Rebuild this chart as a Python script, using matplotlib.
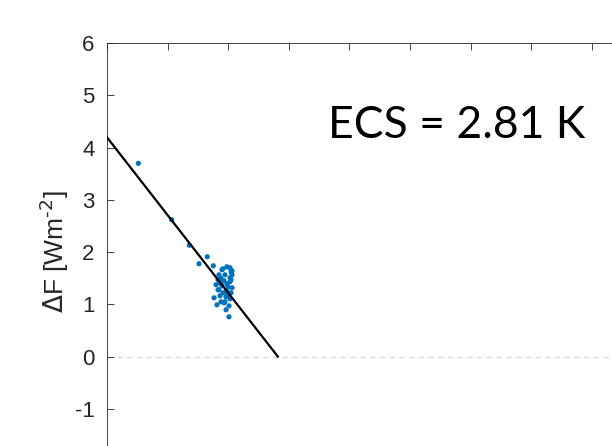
import numpy as np
import matplotlib
matplotlib.use("Agg")
import matplotlib.pyplot as plt

plt.rcParams["axes.unicode_minus"] = False

# surface temperature change vs. TOA imbalance
dT = [0.517, 1.068, 1.358, 1.655, 1.518, 1.754,
      1.980, 2.030, 1.898, 2.046, 1.848, 1.947, 2.063,
      1.832, 1.931, 2.030, 1.799, 1.898, 1.997, 2.063,
      1.848, 1.964, 2.046, 1.766, 1.865, 1.964, 2.030,
      1.815, 1.931, 2.013, 1.964, 2.013, 1.881, 1.832,
      2.046, 1.914, 1.980, 2.030, 1.865, 1.947, 1.997,
      1.914, 2.063, 1.980, 1.881]
dF = [3.697, 2.619, 2.130, 1.910, 1.776, 1.738,
      1.718, 1.699, 1.661, 1.623, 1.565, 1.565, 1.565,
      1.469, 1.450, 1.431, 1.374, 1.354, 1.335, 1.316,
      1.278, 1.239, 1.220, 1.124, 1.163, 1.144, 1.105,
      0.990, 1.029, 0.971, 0.895, 0.761, 1.048, 1.278,
      1.469, 1.220, 1.393, 1.508, 1.410, 1.050, 1.180,
      1.680, 1.640, 1.250, 1.500]

F0 = 4.195       # intercept of the regression line
lam = -1.488     # slope (feedback parameter)
ecs = 2.81

fig = plt.figure(figsize=(6.12, 4.46), dpi=100)
ax = fig.add_axes([107 / 612, (446 - 461.1) / 446, 606 / 612, (461.1 - 43) / 446])

ax.axhline(0, color="#d9d9d9", lw=1.0, ls=(0, (4, 3)), zorder=1)
ax.scatter(dT, dF, s=14, color="#0072BD", edgecolors="none", zorder=3)

x_end = -F0 / lam
xl = np.array([0, x_end])
ax.plot(xl, F0 + lam * xl, color="black", lw=1.6, zorder=4)

ax.set_xlim(0, 10)
ax.set_ylim(-2, 6)
ax.set_yticks(range(-1, 7))
ax.set_xticks(range(0, 11))
ax.set_xticklabels([])

for side in ["left", "top", "right", "bottom"]:
    ax.spines[side].set_color("#262626")
    ax.spines[side].set_linewidth(0.6)
ax.tick_params(direction="in", length=5, width=0.6, color="#262626",
               top=True, right=True, labelsize=16, labelcolor="#262626", pad=9)
for lab in ax.get_yticklabels():
    lab.set_fontfamily("Liberation Sans")

ax.set_ylabel(r"$\Delta$F [Wm$^{\text{-}2}$]", fontsize=19, color="#262626",
              fontfamily="Liberation Sans")
ax.yaxis.set_label_coords(-36 / 606, (461.1 - 252) / (461.1 - 43))

fig.text(457 / 612, 1 - 125 / 446, f"ECS = {ecs:.2f} K", fontsize=32,
         fontfamily="Lato", ha="center", va="center", color="black")

fig.savefig("out.png", dpi=100)
